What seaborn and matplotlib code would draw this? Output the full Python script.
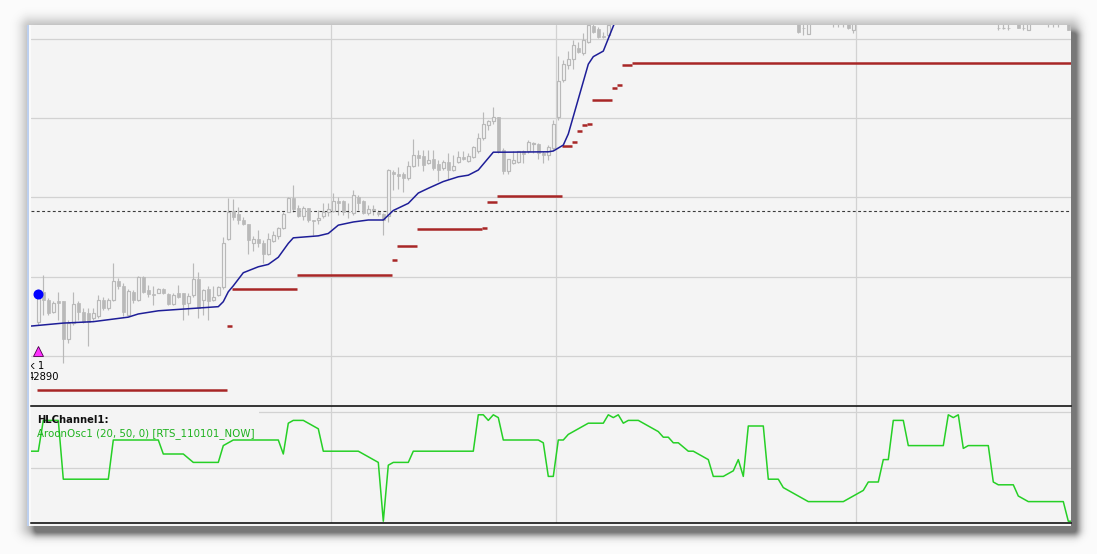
import numpy as np
import pandas as pd
import matplotlib
matplotlib.use("Agg")
import matplotlib.pyplot as plt
from matplotlib.patches import Rectangle
import seaborn as sns

# ---------------- data ----------------
bar_idx = list(range(115)) + [152, 153, 154, 159, 160, 161, 162, 163, 192, 193,
                              194, 196, 197, 198, 202, 203, 204, 206]
opens = [143, 181, 171, 155, 169, 169, 122, 141, 167, 155,
         154, 148, 150, 171, 160, 171, 195, 188, 152, 181,
         171, 199, 183, 178, 180, 185, 178, 165, 180, 179,
         167, 177, 197, 171, 185, 171, 177, 187, 247, 283,
         279, 272, 266, 243, 247, 242, 229, 245, 251, 262,
         282, 299, 286, 277, 286, 271, 271, 276, 282, 283,
         296, 295, 282, 280, 301, 295, 280, 284, 282, 279,
         276, 332, 330, 330, 324, 339, 354, 352, 343, 348,
         342, 337, 345, 335, 345, 351, 346, 351, 358, 375,
         391, 396, 401, 360, 333, 344, 345, 359, 358, 367,
         367, 356, 354, 362, 401, 448, 467, 474, 488, 482,
         496, 516, 512, 504, 505,
         530, 514, 506, 530, 528, 530, 525, 511, 514, 513,
         514, 525, 514, 511, 530, 528, 530, 525]
highs = [185, 202, 173, 169, 181, 169, 145, 181, 169, 160,
         160, 161, 177, 175, 173, 217, 198, 192, 185, 183,
         201, 201, 190, 188, 186, 186, 180, 179, 190, 180,
         179, 217, 206, 185, 188, 188, 188, 250, 299, 298,
         288, 275, 267, 251, 259, 246, 255, 257, 263, 282,
         300, 316, 290, 289, 287, 272, 284, 293, 293, 306,
         301, 297, 293, 309, 303, 297, 290, 290, 284, 280,
         336, 335, 338, 332, 346, 374, 360, 360, 360, 360,
         347, 347, 356, 354, 358, 358, 356, 365, 381, 408,
         398, 414, 402, 362, 349, 358, 359, 360, 372, 370,
         369, 358, 366, 398, 478, 473, 484, 498, 496, 507,
         530, 530, 515, 508, 530,
         540, 535, 535, 540, 540, 540, 535, 535, 535, 535,
         535, 535, 535, 535, 540, 540, 540, 535]
lows = [139, 152, 152, 154, 145, 91, 116, 139, 145, 141,
        112, 145, 148, 158, 158, 169, 185, 150, 150, 167,
        169, 179, 175, 164, 179, 178, 164, 164, 173, 145,
        152, 175, 148, 152, 145, 169, 176, 185, 246, 272,
        267, 265, 229, 233, 238, 217, 227, 244, 248, 260,
        281, 282, 275, 272, 269, 253, 267, 274, 276, 282,
        278, 278, 274, 278, 284, 279, 278, 278, 277, 253,
        269, 309, 311, 307, 322, 338, 339, 333, 342, 335,
        321, 335, 323, 333, 343, 347, 345, 350, 356, 372,
        385, 393, 356, 330, 330, 342, 344, 343, 356, 356,
        349, 343, 347, 360, 398, 446, 462, 462, 482, 480,
        495, 507, 501, 501, 504,
        507, 505, 506, 515, 515, 515, 512, 507, 511, 512,
        511, 513, 511, 511, 515, 515, 515, 511]
closes = [177, 171, 154, 167, 167, 122, 141, 165, 155, 143,
          143, 154, 171, 160, 171, 195, 188, 156, 182, 170,
          199, 181, 178, 177, 185, 179, 166, 177, 174, 165,
          176, 197, 160, 183, 169, 175, 187, 243, 282, 275,
          272, 267, 246, 247, 242, 229, 247, 253, 261, 279,
          299, 285, 277, 287, 271, 270, 274, 282, 285, 295,
          293, 281, 281, 303, 293, 280, 285, 285, 279, 272,
          335, 330, 327, 324, 339, 354, 350, 341, 347, 337,
          335, 345, 334, 339, 351, 349, 352, 363, 375, 393,
          396, 401, 358, 333, 348, 347, 358, 355, 370, 368,
          356, 354, 364, 393, 447, 468, 474, 492, 483, 499,
          517, 508, 502, 502, 517,
          508, 513, 525, 528, 530, 529, 513, 525, 513, 514,
          513, 513, 513, 525, 528, 530, 529, 511]

# lower channel line (bar, value) breakpoints
blue_bars = [-2, -1, 5, 11, 18, 20, 24, 36, 37, 38, 39, 41, 44, 46, 48, 50, 51, 56,
             58, 60, 63, 66, 69, 71, 74, 76, 78, 81, 84, 86, 88, 91, 93, 102, 103,
             105, 106, 110, 111, 113, 115, 116, 117]
blue_vals = [137.5, 138, 141.5, 143.3, 149, 153, 157, 162.2, 168.5, 181, 188.5, 205,
             212.5, 215.5, 224.5, 242, 249, 251.5, 254.5, 265, 269, 271.5, 271.5,
             283.5, 292.5, 305.5, 311.5, 320, 326, 328, 334.5, 357, 357, 357.5,
             358.5, 366, 380, 468, 477.5, 484.5, 516, 531, 546]

# HL channel steps: first bar, last bar, level
seg_start = [0, 38, 39, 52, 71, 72, 76, 89, 90, 92, 105, 107, 108, 109, 110, 111, 115, 116, 117, 119]
seg_end = [37, 38, 51, 70, 71, 75, 88, 89, 91, 104, 106, 107, 108, 109, 110, 114, 115, 116, 118, 207]
seg_level = [57, 138, 184.5, 202, 221, 238.5, 260, 262, 294.5, 302, 365, 370, 383.5,
             391, 393, 423, 438, 441.5, 467, 470]

ref_level = 283
signal_bar, signal_price = 0, 178
entry_bar, entry_price = 0, 106
entry_labels = ["k 1", "42890"]

# Aroon oscillator breakpoints
osc_bars = [-2, 0, 1, 4, 5, 14, 15, 24, 25, 29, 31, 36, 37, 39, 48, 49, 50, 51, 53, 56,
            57, 64, 68, 69, 70, 71, 74, 75, 87, 88, 89, 90, 91, 92, 93, 100, 101, 102,
            103, 104, 105, 106, 110, 113, 114, 115, 116, 117, 118, 120, 124, 125, 126,
            127, 128, 130, 131, 134, 135, 137, 139, 140, 141, 142, 145, 146, 148, 149,
            150, 154, 161, 165, 166, 168, 169, 170, 171, 173, 174, 181, 182, 183, 184,
            185, 186, 190, 191, 192, 195, 196, 198, 205, 206, 207]
osc_vals = [30, 30, 85, 85, -20, -20, 50, 50, 25, 25, 10, 10, 40, 50, 50, 25, 80, 85, 85, 70,
            30, 30, 10, -95, 5, 10, 10, 30, 30, 95, 95, 85, 95, 90, 50, 50, 45, -15,
            -15, 50, 50, 60, 80, 80, 95, 90, 95, 80, 85, 85, 65, 55, 55,
            45, 45, 30, 30, 15, -15, -15, -5, 15, -15, 75, 75, -20, -20, -35,
            -40, -60, -60, -40, -25, -25, 15, 15, 85, 85, 40, 40, 95, 90, 95,
            35, 40, 40, -25, -30, -30, -50, -60, -60, -95, -95]

price_grid = [100, 200, 300, 400, 500]
osc_grid = [0, 100]
session_breaks = [58.5, 103.5, 163.5]
osc_title = "HLChannel1:"
osc_label = "AroonOsc1 (20, 50, 0) [RTS_110101_NOW]"

# ---------------- style ----------------
sns.set_theme(style="whitegrid")
plt.rcParams["font.family"] = ["DejaVu Sans"]
PANEL = "#f4f4f4"
GRID = "#d2d2d2"
CANDLE = "#b9b9b9"
RED = "#a82626"
BLUE = "#1e1e98"
GREEN = "#26d026"

W, H = 1097, 554
fig = plt.figure(figsize=(W / 100, H / 100), dpi=100)
fig.patch.set_facecolor("#fbfbfb")

# window frame with drop shadow (decoration)
bg = fig.add_axes([0, 0, 1, 1], zorder=-10)
bg.set_axis_off()
yy, xx = np.mgrid[0:H, 0:W] + 0.5


def rect_dist(x0, x1, y0, y1):
    dx = np.maximum(np.maximum(x0 - xx, xx - x1), 0)
    dy = np.maximum(np.maximum(y0 - yy, yy - y1), 0)
    return np.hypot(dx, dy)


soft = 0.21 * np.exp(-(rect_dist(30, 1071, 27, 527) / 10.0) ** 2)
dark = 0.40 * np.exp(-(rect_dist(38, 1074, 36, 530) / 6.5) ** 2)
shade = np.clip(soft + dark, 0, 0.52)
img = 0.984 * (1 - shade)
bg.imshow(img, cmap="gray", vmin=0, vmax=1, extent=[0, W, H, 0],
          aspect="auto", interpolation="bilinear")
bg.add_patch(Rectangle((27, 25), 1044, 501, facecolor=PANEL, edgecolor="none"))
bg.add_patch(Rectangle((27, 25), 2.4, 501, facecolor="#bccfee", edgecolor="none"))
bg.add_patch(Rectangle((29.4, 25), 1.6, 501, facecolor="#fafafa", edgecolor="none"))
bg.set_xlim(0, W)
bg.set_ylim(H, 0)

ax = fig.add_axes([31 / W, 1 - 405 / H, 1040 / W, 380 / H])
ax2 = fig.add_axes([31 / W, 1 - 523 / H, 1040 / W, 117 / H])

for a in (ax, ax2):
    a.set_facecolor(PANEL)
    a.grid(True, color=GRID, linewidth=0.9)
    a.set_xticks(session_breaks)
    a.tick_params(length=0, labelleft=False, labelbottom=False)
    a.set_xlim(-1.46, 206.54)
    for s in a.spines.values():
        s.set_visible(False)

ax.set_yticks(price_grid)
ax.set_ylim(38.2, 517.4)
ax2.set_yticks(osc_grid)
ax2.set_ylim(-98.2, 110.7)
for s in ("top", "bottom"):
    ax2.spines[s].set_visible(True)
    ax2.spines[s].set_color("black")
    ax2.spines[s].set_linewidth(1.1)

# ---------------- candles ----------------
df = pd.DataFrame({"bar": bar_idx, "open": opens, "high": highs,
                   "low": lows, "close": closes})
df["lo"] = df[["open", "close"]].min(axis=1)
df["h"] = (df["close"] - df["open"]).abs().clip(lower=1.2)
up = df["close"] >= df["open"]
ax.vlines(df["bar"], df["low"], df["high"], color=CANDLE, linewidth=0.85, zorder=2)
ax.bar(df.loc[~up, "bar"], df.loc[~up, "h"], bottom=df.loc[~up, "lo"], width=0.66,
       color=CANDLE, edgecolor=CANDLE, linewidth=0.5, zorder=3)
ax.bar(df.loc[up, "bar"], df.loc[up, "h"], bottom=df.loc[up, "lo"], width=0.58,
       facecolor=PANEL, edgecolor=CANDLE, linewidth=0.85, zorder=3)

# channel steps
ax.hlines(seg_level, np.array(seg_start) - 0.3, np.array(seg_end) + 0.7,
          color=RED, linewidth=1.8, capstyle="butt", zorder=4)

# reference dashed level
ax.axhline(ref_level, color="#3a3a3a", linewidth=0.8, dashes=(2.6, 2.2), zorder=2.5)

# lower channel line
blue_df = pd.DataFrame({"bar": blue_bars, "value": blue_vals})
sns.lineplot(data=blue_df, x="bar", y="value", ax=ax, color=BLUE, linewidth=1.1,
             sort=False, estimator=None, zorder=5)

# signal markers
ax.plot([signal_bar], [signal_price], "o", color="#0000ff", markersize=6.2, zorder=6)
ax.plot([entry_bar], [entry_price], "^", markerfacecolor="#ff30ff",
        markeredgecolor="#4a004a", markeredgewidth=0.6, markersize=7, zorder=6)
ax.annotate(entry_labels[0], xy=(entry_bar, entry_price), xytext=(-9.3, -17.3),
            textcoords="offset pixels", ha="left", va="baseline", fontsize=7.2,
            color="black", clip_on=True, annotation_clip=False)
ax.annotate(entry_labels[1], xy=(entry_bar, entry_price), xytext=(-10.6, -28.7),
            textcoords="offset pixels", ha="left", va="baseline", fontsize=7.2,
            color="black", clip_on=True, annotation_clip=False)
ax.set_xlabel("")
ax.set_ylabel("")

# ---------------- oscillator ----------------
ax2.add_patch(Rectangle((0, 0.93), 0.219, 0.08, transform=ax2.transAxes,
                        facecolor=PANEL, edgecolor="none", zorder=1))
osc_df = pd.DataFrame({"bar": osc_bars, "value": osc_vals})
sns.lineplot(data=osc_df, x="bar", y="value", ax=ax2, color=GREEN, linewidth=1.1,
             sort=False, estimator=None, zorder=3)
ax2.set_xlabel("")
ax2.set_ylabel("")
ax2.text(0.0058, 0.857, osc_title, transform=ax2.transAxes, fontsize=7.2,
         fontweight="bold", color="#111111", va="baseline", ha="left", zorder=4)
ax2.text(0.0058, 0.744, osc_label, transform=ax2.transAxes, fontsize=7.4,
         color="#1fb21f", va="baseline", ha="left", zorder=4)

fig.savefig("out.png", dpi=100, facecolor=fig.get_facecolor())
